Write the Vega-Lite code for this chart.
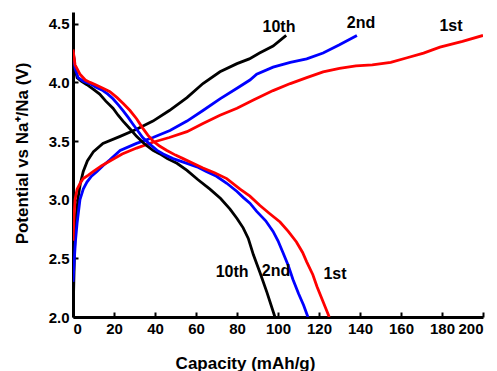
{
  "$schema": "https://vega.github.io/schema/vega-lite/v6.json",
  "width": 410,
  "height": 305,
  "autosize": "none",
  "padding": {"left": 73, "top": 12, "right": 14, "bottom": 54},
  "background": "white",
  "config": {"view": {"stroke": null}, "font": "Liberation Sans"},
  "datasets": {
    "curves": [
      {"curve": "c10", "cycle": "10th", "x": 0.3, "y": 2.22},
      {"curve": "c10", "cycle": "10th", "x": 0.8, "y": 2.6},
      {"curve": "c10", "cycle": "10th", "x": 1.5, "y": 2.85},
      {"curve": "c10", "cycle": "10th", "x": 2.5, "y": 3.02},
      {"curve": "c10", "cycle": "10th", "x": 3.5, "y": 3.13},
      {"curve": "c10", "cycle": "10th", "x": 5, "y": 3.24},
      {"curve": "c10", "cycle": "10th", "x": 7, "y": 3.33},
      {"curve": "c10", "cycle": "10th", "x": 10, "y": 3.41},
      {"curve": "c10", "cycle": "10th", "x": 14.6, "y": 3.48},
      {"curve": "c10", "cycle": "10th", "x": 23, "y": 3.54},
      {"curve": "c10", "cycle": "10th", "x": 31, "y": 3.6},
      {"curve": "c10", "cycle": "10th", "x": 39, "y": 3.67},
      {"curve": "c10", "cycle": "10th", "x": 47, "y": 3.76},
      {"curve": "c10", "cycle": "10th", "x": 55.6, "y": 3.87},
      {"curve": "c10", "cycle": "10th", "x": 63.4, "y": 3.99},
      {"curve": "c10", "cycle": "10th", "x": 71.7, "y": 4.09},
      {"curve": "c10", "cycle": "10th", "x": 80, "y": 4.16},
      {"curve": "c10", "cycle": "10th", "x": 86, "y": 4.2},
      {"curve": "c10", "cycle": "10th", "x": 91, "y": 4.25},
      {"curve": "c10", "cycle": "10th", "x": 97.6, "y": 4.31},
      {"curve": "c10", "cycle": "10th", "x": 104, "y": 4.4},

      {"curve": "c2", "cycle": "2nd", "x": 0, "y": 2.3},
      {"curve": "c2", "cycle": "2nd", "x": 0.5, "y": 2.45},
      {"curve": "c2", "cycle": "2nd", "x": 1.2, "y": 2.65},
      {"curve": "c2", "cycle": "2nd", "x": 2, "y": 2.8},
      {"curve": "c2", "cycle": "2nd", "x": 3.4, "y": 3.0},
      {"curve": "c2", "cycle": "2nd", "x": 5, "y": 3.09},
      {"curve": "c2", "cycle": "2nd", "x": 6.8, "y": 3.15},
      {"curve": "c2", "cycle": "2nd", "x": 9, "y": 3.2},
      {"curve": "c2", "cycle": "2nd", "x": 11.7, "y": 3.24},
      {"curve": "c2", "cycle": "2nd", "x": 14.6, "y": 3.29},
      {"curve": "c2", "cycle": "2nd", "x": 18, "y": 3.34},
      {"curve": "c2", "cycle": "2nd", "x": 23, "y": 3.42},
      {"curve": "c2", "cycle": "2nd", "x": 31, "y": 3.48},
      {"curve": "c2", "cycle": "2nd", "x": 39, "y": 3.53},
      {"curve": "c2", "cycle": "2nd", "x": 47.3, "y": 3.59},
      {"curve": "c2", "cycle": "2nd", "x": 55.6, "y": 3.67},
      {"curve": "c2", "cycle": "2nd", "x": 63.4, "y": 3.76},
      {"curve": "c2", "cycle": "2nd", "x": 71.7, "y": 3.86},
      {"curve": "c2", "cycle": "2nd", "x": 80, "y": 3.95},
      {"curve": "c2", "cycle": "2nd", "x": 86.3, "y": 4.02},
      {"curve": "c2", "cycle": "2nd", "x": 89.6, "y": 4.07},
      {"curve": "c2", "cycle": "2nd", "x": 97.6, "y": 4.13},
      {"curve": "c2", "cycle": "2nd", "x": 106, "y": 4.17},
      {"curve": "c2", "cycle": "2nd", "x": 114, "y": 4.2},
      {"curve": "c2", "cycle": "2nd", "x": 122, "y": 4.25},
      {"curve": "c2", "cycle": "2nd", "x": 130, "y": 4.32},
      {"curve": "c2", "cycle": "2nd", "x": 138.5, "y": 4.4},

      {"curve": "c1", "cycle": "1st", "x": 0, "y": 2.65},
      {"curve": "c1", "cycle": "1st", "x": 0.5, "y": 2.85},
      {"curve": "c1", "cycle": "1st", "x": 1, "y": 3.0},
      {"curve": "c1", "cycle": "1st", "x": 2, "y": 3.09},
      {"curve": "c1", "cycle": "1st", "x": 3.5, "y": 3.14},
      {"curve": "c1", "cycle": "1st", "x": 5, "y": 3.18},
      {"curve": "c1", "cycle": "1st", "x": 7.5, "y": 3.21},
      {"curve": "c1", "cycle": "1st", "x": 9.8, "y": 3.24},
      {"curve": "c1", "cycle": "1st", "x": 14, "y": 3.29},
      {"curve": "c1", "cycle": "1st", "x": 18, "y": 3.33},
      {"curve": "c1", "cycle": "1st", "x": 24, "y": 3.39},
      {"curve": "c1", "cycle": "1st", "x": 31, "y": 3.44},
      {"curve": "c1", "cycle": "1st", "x": 39, "y": 3.49},
      {"curve": "c1", "cycle": "1st", "x": 47, "y": 3.53},
      {"curve": "c1", "cycle": "1st", "x": 55.6, "y": 3.58},
      {"curve": "c1", "cycle": "1st", "x": 63.4, "y": 3.65},
      {"curve": "c1", "cycle": "1st", "x": 71.7, "y": 3.72},
      {"curve": "c1", "cycle": "1st", "x": 80, "y": 3.78},
      {"curve": "c1", "cycle": "1st", "x": 88, "y": 3.85},
      {"curve": "c1", "cycle": "1st", "x": 97.6, "y": 3.93},
      {"curve": "c1", "cycle": "1st", "x": 106, "y": 3.99},
      {"curve": "c1", "cycle": "1st", "x": 114, "y": 4.04},
      {"curve": "c1", "cycle": "1st", "x": 122, "y": 4.09},
      {"curve": "c1", "cycle": "1st", "x": 130, "y": 4.12},
      {"curve": "c1", "cycle": "1st", "x": 138, "y": 4.14},
      {"curve": "c1", "cycle": "1st", "x": 146, "y": 4.15},
      {"curve": "c1", "cycle": "1st", "x": 155, "y": 4.17},
      {"curve": "c1", "cycle": "1st", "x": 163, "y": 4.21},
      {"curve": "c1", "cycle": "1st", "x": 171, "y": 4.25},
      {"curve": "c1", "cycle": "1st", "x": 179, "y": 4.3},
      {"curve": "c1", "cycle": "1st", "x": 190, "y": 4.35},
      {"curve": "c1", "cycle": "1st", "x": 200, "y": 4.4},

      {"curve": "d10", "cycle": "10th", "x": 0, "y": 4.28},
      {"curve": "d10", "cycle": "10th", "x": 1, "y": 4.12},
      {"curve": "d10", "cycle": "10th", "x": 2, "y": 4.04},
      {"curve": "d10", "cycle": "10th", "x": 4, "y": 4.01},
      {"curve": "d10", "cycle": "10th", "x": 6.8, "y": 3.98},
      {"curve": "d10", "cycle": "10th", "x": 10, "y": 3.94},
      {"curve": "d10", "cycle": "10th", "x": 13, "y": 3.9},
      {"curve": "d10", "cycle": "10th", "x": 16, "y": 3.84},
      {"curve": "d10", "cycle": "10th", "x": 19.5, "y": 3.78},
      {"curve": "d10", "cycle": "10th", "x": 22, "y": 3.72},
      {"curve": "d10", "cycle": "10th", "x": 24.4, "y": 3.67},
      {"curve": "d10", "cycle": "10th", "x": 28, "y": 3.6},
      {"curve": "d10", "cycle": "10th", "x": 31, "y": 3.54},
      {"curve": "d10", "cycle": "10th", "x": 34, "y": 3.49},
      {"curve": "d10", "cycle": "10th", "x": 36, "y": 3.46},
      {"curve": "d10", "cycle": "10th", "x": 39, "y": 3.42},
      {"curve": "d10", "cycle": "10th", "x": 42.4, "y": 3.39},
      {"curve": "d10", "cycle": "10th", "x": 46, "y": 3.35},
      {"curve": "d10", "cycle": "10th", "x": 50.7, "y": 3.31},
      {"curve": "d10", "cycle": "10th", "x": 55.6, "y": 3.25},
      {"curve": "d10", "cycle": "10th", "x": 61, "y": 3.17},
      {"curve": "d10", "cycle": "10th", "x": 66.8, "y": 3.09},
      {"curve": "d10", "cycle": "10th", "x": 72, "y": 3.01},
      {"curve": "d10", "cycle": "10th", "x": 76.6, "y": 2.92},
      {"curve": "d10", "cycle": "10th", "x": 80, "y": 2.84},
      {"curve": "d10", "cycle": "10th", "x": 83, "y": 2.76},
      {"curve": "d10", "cycle": "10th", "x": 85.5, "y": 2.67},
      {"curve": "d10", "cycle": "10th", "x": 88, "y": 2.53},
      {"curve": "d10", "cycle": "10th", "x": 91.2, "y": 2.38},
      {"curve": "d10", "cycle": "10th", "x": 94.6, "y": 2.21},
      {"curve": "d10", "cycle": "10th", "x": 98.5, "y": 2.0},

      {"curve": "d2", "cycle": "2nd", "x": 0, "y": 4.26},
      {"curve": "d2", "cycle": "2nd", "x": 1, "y": 4.12},
      {"curve": "d2", "cycle": "2nd", "x": 2.5, "y": 4.04},
      {"curve": "d2", "cycle": "2nd", "x": 5, "y": 4.01},
      {"curve": "d2", "cycle": "2nd", "x": 8.3, "y": 3.99},
      {"curve": "d2", "cycle": "2nd", "x": 11, "y": 3.96},
      {"curve": "d2", "cycle": "2nd", "x": 14.6, "y": 3.93},
      {"curve": "d2", "cycle": "2nd", "x": 17, "y": 3.9},
      {"curve": "d2", "cycle": "2nd", "x": 19.5, "y": 3.86},
      {"curve": "d2", "cycle": "2nd", "x": 22, "y": 3.81},
      {"curve": "d2", "cycle": "2nd", "x": 24.4, "y": 3.76},
      {"curve": "d2", "cycle": "2nd", "x": 27, "y": 3.7},
      {"curve": "d2", "cycle": "2nd", "x": 29, "y": 3.65},
      {"curve": "d2", "cycle": "2nd", "x": 31.5, "y": 3.59},
      {"curve": "d2", "cycle": "2nd", "x": 34, "y": 3.53},
      {"curve": "d2", "cycle": "2nd", "x": 37, "y": 3.48},
      {"curve": "d2", "cycle": "2nd", "x": 41, "y": 3.42},
      {"curve": "d2", "cycle": "2nd", "x": 44, "y": 3.39},
      {"curve": "d2", "cycle": "2nd", "x": 48.8, "y": 3.35},
      {"curve": "d2", "cycle": "2nd", "x": 55.6, "y": 3.31},
      {"curve": "d2", "cycle": "2nd", "x": 60.5, "y": 3.28},
      {"curve": "d2", "cycle": "2nd", "x": 65, "y": 3.24},
      {"curve": "d2", "cycle": "2nd", "x": 70, "y": 3.2},
      {"curve": "d2", "cycle": "2nd", "x": 75, "y": 3.14},
      {"curve": "d2", "cycle": "2nd", "x": 80, "y": 3.07},
      {"curve": "d2", "cycle": "2nd", "x": 83, "y": 3.02},
      {"curve": "d2", "cycle": "2nd", "x": 86.3, "y": 2.97},
      {"curve": "d2", "cycle": "2nd", "x": 89.6, "y": 2.9},
      {"curve": "d2", "cycle": "2nd", "x": 94, "y": 2.82},
      {"curve": "d2", "cycle": "2nd", "x": 97.6, "y": 2.73},
      {"curve": "d2", "cycle": "2nd", "x": 100, "y": 2.65},
      {"curve": "d2", "cycle": "2nd", "x": 102.4, "y": 2.55},
      {"curve": "d2", "cycle": "2nd", "x": 105, "y": 2.44},
      {"curve": "d2", "cycle": "2nd", "x": 107.3, "y": 2.32},
      {"curve": "d2", "cycle": "2nd", "x": 110, "y": 2.2},
      {"curve": "d2", "cycle": "2nd", "x": 112.5, "y": 2.1},
      {"curve": "d2", "cycle": "2nd", "x": 114.6, "y": 2.0},

      {"curve": "d1", "cycle": "1st", "x": 0, "y": 4.28},
      {"curve": "d1", "cycle": "1st", "x": 1, "y": 4.15},
      {"curve": "d1", "cycle": "1st", "x": 3.4, "y": 4.07},
      {"curve": "d1", "cycle": "1st", "x": 6, "y": 4.02},
      {"curve": "d1", "cycle": "1st", "x": 8.3, "y": 4.0},
      {"curve": "d1", "cycle": "1st", "x": 11, "y": 3.98},
      {"curve": "d1", "cycle": "1st", "x": 14.6, "y": 3.95},
      {"curve": "d1", "cycle": "1st", "x": 18, "y": 3.92},
      {"curve": "d1", "cycle": "1st", "x": 21.5, "y": 3.87},
      {"curve": "d1", "cycle": "1st", "x": 24.5, "y": 3.82},
      {"curve": "d1", "cycle": "1st", "x": 27.8, "y": 3.76},
      {"curve": "d1", "cycle": "1st", "x": 31, "y": 3.69},
      {"curve": "d1", "cycle": "1st", "x": 34, "y": 3.61},
      {"curve": "d1", "cycle": "1st", "x": 36.5, "y": 3.55},
      {"curve": "d1", "cycle": "1st", "x": 39, "y": 3.5},
      {"curve": "d1", "cycle": "1st", "x": 42, "y": 3.46},
      {"curve": "d1", "cycle": "1st", "x": 45.8, "y": 3.42},
      {"curve": "d1", "cycle": "1st", "x": 50, "y": 3.38},
      {"curve": "d1", "cycle": "1st", "x": 53.7, "y": 3.35},
      {"curve": "d1", "cycle": "1st", "x": 58.5, "y": 3.31},
      {"curve": "d1", "cycle": "1st", "x": 63.4, "y": 3.27},
      {"curve": "d1", "cycle": "1st", "x": 69, "y": 3.23},
      {"curve": "d1", "cycle": "1st", "x": 75, "y": 3.18},
      {"curve": "d1", "cycle": "1st", "x": 81.5, "y": 3.09},
      {"curve": "d1", "cycle": "1st", "x": 86.3, "y": 3.03},
      {"curve": "d1", "cycle": "1st", "x": 91.2, "y": 2.95},
      {"curve": "d1", "cycle": "1st", "x": 96, "y": 2.88},
      {"curve": "d1", "cycle": "1st", "x": 101, "y": 2.81},
      {"curve": "d1", "cycle": "1st", "x": 105, "y": 2.73},
      {"curve": "d1", "cycle": "1st", "x": 109, "y": 2.64},
      {"curve": "d1", "cycle": "1st", "x": 112, "y": 2.55},
      {"curve": "d1", "cycle": "1st", "x": 114, "y": 2.47},
      {"curve": "d1", "cycle": "1st", "x": 117, "y": 2.36},
      {"curve": "d1", "cycle": "1st", "x": 119, "y": 2.26},
      {"curve": "d1", "cycle": "1st", "x": 122, "y": 2.13},
      {"curve": "d1", "cycle": "1st", "x": 125, "y": 2.0}
    ],
    "labels": [
      {"t": "10th", "x": 100.5, "y": 4.47},
      {"t": "2nd", "x": 140.5, "y": 4.51},
      {"t": "1st", "x": 184.4, "y": 4.48},
      {"t": "10th", "x": 77.6, "y": 2.38},
      {"t": "2nd", "x": 99, "y": 2.39},
      {"t": "1st", "x": 127.8, "y": 2.37}
    ]
  },
  "layer": [
    {
      "data": {"name": "curves"},
      "mark": {"type": "line", "strokeWidth": 2.8, "clip": true},
      "encoding": {
        "x": {
          "field": "x", "type": "quantitative",
          "scale": {"domain": [0, 200], "nice": false, "zero": false},
          "axis": {
            "values": [0, 10, 20, 30, 40, 50, 60, 70, 80, 90, 100, 110, 120, 130, 140, 150, 160, 170, 180, 190, 200],
            "labelExpr": "datum.value % 20 == 0 ? datum.label : ''",
            "grid": false,
            "title": "Capacity (mAh/g)",
            "domainColor": "#000000", "domainWidth": 3,
            "tickColor": "#000000", "tickWidth": 2, "tickSize": -5,
            "labelFont": "Liberation Sans", "labelFontWeight": "bold", "labelFontSize": 15, "labelColor": "#000000",
            "labelPadding": 9, "labelOverlap": false,
            "titleFont": "Liberation Sans", "titleFontWeight": "bold", "titleFontSize": 17, "titleColor": "#000000",
            "titleX": 172, "titleY": 38, "titleAlign": "center", "titleBaseline": "top"
          }
        },
        "y": {
          "field": "y", "type": "quantitative",
          "scale": {"domain": [2.0, 4.6], "nice": false, "zero": false},
          "axis": {
            "values": [2.0, 2.25, 2.5, 2.75, 3.0, 3.25, 3.5, 3.75, 4.0, 4.25, 4.5],
            "labelExpr": "abs(datum.value * 2 - round(datum.value * 2)) < 0.001 ? format(datum.value, '.1f') : ''",
            "grid": false,
            "title": "Potential vs Na⁺/Na (V)",
            "domainColor": "#000000", "domainWidth": 3,
            "tickColor": "#000000", "tickWidth": 2, "tickSize": -5,
            "labelFont": "Liberation Sans", "labelFontWeight": "bold", "labelFontSize": 15, "labelColor": "#000000",
            "labelPadding": 9, "labelOverlap": false,
            "titleFont": "Liberation Sans", "titleFontWeight": "bold", "titleFontSize": 17, "titleColor": "#000000",
            "titleX": -51, "titleY": 141, "titleAlign": "center", "titleBaseline": "middle", "titleAngle": -90
          }
        },
        "color": {
          "field": "cycle", "type": "nominal",
          "scale": {"domain": ["1st", "2nd", "10th"], "range": ["#ff0000", "#0000ff", "#000000"]},
          "legend": null
        },
        "detail": {"field": "curve", "type": "nominal"}
      }
    },
    {
      "data": {"name": "labels"},
      "mark": {"type": "text", "font": "Liberation Sans", "fontWeight": "bold", "fontSize": 16, "align": "center", "baseline": "middle", "color": "#000000"},
      "encoding": {
        "x": {"field": "x", "type": "quantitative"},
        "y": {"field": "y", "type": "quantitative"},
        "text": {"field": "t", "type": "nominal"}
      }
    }
  ]
}
